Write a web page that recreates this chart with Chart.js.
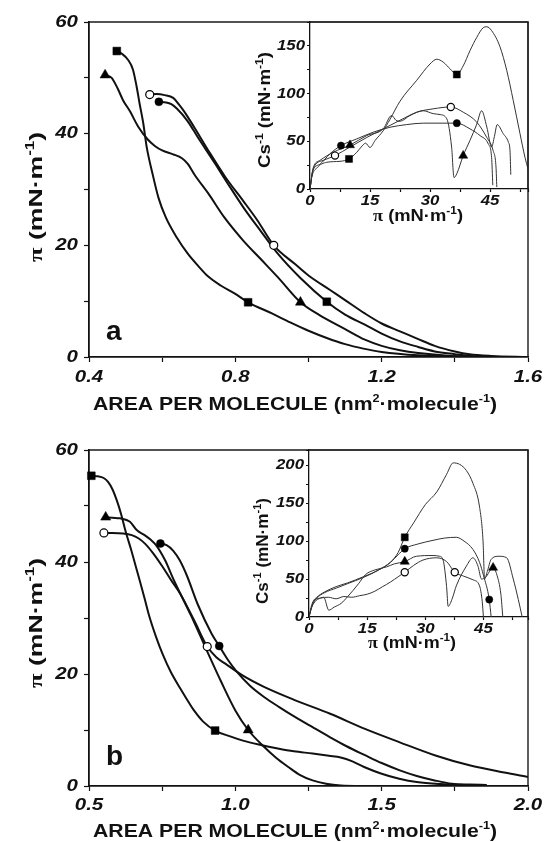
<!DOCTYPE html>
<html><head><meta charset="utf-8">
<script src="https://cdn.jsdelivr.net/npm/chart.js@4.4.1/dist/chart.umd.min.js"></script>
<style>
html,body{margin:0;padding:0;background:#fff;}
body{width:546px;height:842px;position:relative;overflow:hidden;}
canvas{position:absolute;}
</style></head><body>
<canvas id="mainA" width="546" height="420" style="left:0;top:0;width:546px;height:420px"></canvas>
<canvas id="insetA" width="306" height="240" style="left:240px;top:0;width:306px;height:240px"></canvas>
<canvas id="mainB" width="546" height="422" style="left:0;top:420px;width:546px;height:422px"></canvas>
<canvas id="insetB" width="306" height="240" style="left:240px;top:420px;width:306px;height:240px"></canvas>
<script>
// ===== Panel a, main: pi (mN/m) vs area per molecule (nm2/molecule)
const aSquare = [[0.476,54.8],[0.49,54.3],[0.507,53.2],[0.52,51.5],[0.53,48.5],[0.538,45.5],[0.548,42],[0.558,37.5],[0.573,33],[0.59,28.5],[0.61,25],[0.64,21.4],[0.67,18.5],[0.70,16.2],[0.726,14.4],[0.76,12.8],[0.80,11.3],[0.835,9.8],[0.9,7.8],[0.95,6.2],[1.0,4.7],[1.05,3.4],[1.1,2.3],[1.15,1.5],[1.2,0.9],[1.3,0.3],[1.4,0.1],[1.5,0]];
const aTriangle = [[0.444,50.5],[0.462,50],[0.479,48],[0.493,46],[0.512,44],[0.535,41.2],[0.56,39],[0.58,37.8],[0.60,37],[0.63,36.3],[0.654,35.6],[0.67,34.6],[0.69,32.5],[0.726,29.3],[0.77,25],[0.821,20.9],[0.87,17.5],[0.916,14.3],[0.978,9.8],[1.03,7.5],[1.1,5],[1.154,3.1],[1.2,2],[1.25,1.2],[1.3,0.7],[1.39,0.2],[1.5,0]];
const aOpenCircle = [[0.566,47],[0.585,47.1],[0.607,46.9],[0.63,46.4],[0.645,45.3],[0.66,44],[0.688,41.1],[0.726,37],[0.773,32.2],[0.821,28],[0.86,24.5],[0.905,20],[0.964,16.6],[1.0,14.6],[1.059,12],[1.1,10.2],[1.154,7.8],[1.2,6],[1.25,4.6],[1.3,3.2],[1.345,2],[1.4,1],[1.44,0.5],[1.5,0.2],[1.6,0]];
const aFilledCircle = [[0.591,45.7],[0.611,45.6],[0.625,45.3],[0.64,44.5],[0.669,42.3],[0.697,39.4],[0.745,34.6],[0.78,31],[0.821,26.9],[0.87,22.5],[0.916,18.5],[0.98,14],[1.05,9.9],[1.1,7.6],[1.154,5.8],[1.2,4.2],[1.25,2.8],[1.3,1.8],[1.345,1],[1.4,0.5],[1.44,0.2],[1.5,0.05],[1.58,0]];
const aMarkX = [0.476,0.835,1.05,0.444,0.978,0.566,0.905,0.591];
const aMarkY = [54.8,9.8,9.9,50.5,9.8,47,20,45.7];
const aMarkShape = ['sq','sq','sq','tri','tri','open','open','dot'];
const aXTicks = ['0.4','0.8','1.2','1.6'];
const aYTicks = ['0','20','40','60'];

// ===== Panel a, inset: Cs^-1 vs pi
const aInsSquare = [[0,0],[0.4,12],[1.7,22],[4.2,28],[7.5,29],[9.75,31.5],[11.7,38.5],[13,45],[13.9,48],[15,43.5],[16.3,51],[18.3,61],[20,73],[22.5,92],[26.7,114],[30,131],[31.7,136],[33.3,133],[35,126],[36.7,120],[38.3,129],[40,145],[41.7,159],[43.3,169],[44.2,170],[45.4,166],[47.5,149],[49.2,124],[50.8,93],[52.5,58],[53.75,33],[54.5,21]];
const aInsTriangle = [[0,0],[0.8,22],[2.5,30],[5.8,38.5],[10,46],[14.2,56],[18.3,63],[20.4,77],[21.5,72],[22.5,71],[25,77],[28.3,82],[30.8,79],[32.5,78],[34.2,73.5],[35.4,44],[36,12],[36.7,16],[38.3,35],[40,51],[41.7,68],[42.9,82],[44.2,65],[45.4,44],[46.1,55],[46.8,67.5],[48.3,58],[49.6,49],[50,40],[50.2,15]];
const aInsOpenCircle = [[0,0],[0.8,21],[3.3,30],[6.25,35],[10,44],[14.2,54],[18.3,63],[22.5,72],[26.7,80.5],[30.8,84],[35.2,86],[38.3,80.5],[41.7,70],[44.2,54],[45.8,40],[46.5,23],[46.7,2]];
const aInsFilledCircle = [[0,0],[0.7,19],[2.5,26],[5,37],[7.75,45.5],[11.7,52.5],[15.8,59.5],[20,64.7],[24.2,67.5],[28.3,69],[32.5,69],[36.7,69],[40,63],[42.5,56],[44.6,47],[45.4,33],[45.7,4]];
const aInsMarkX = [9.75,36.7,10,38.3,6.25,35.2,7.75,36.7];
const aInsMarkY = [31.5,120,46,35,35,86,45.5,69];
const aInsMarkShape = ['sq','sq','tri','tri','open','open','dot','dot'];
const aInsXTicks = ['0','15','30','45'];
const aInsYTicks = ['0','50','100','150'];

// ===== Panel b, main
const bSquare = [[0.508,55.4],[0.53,55.3],[0.55,55],[0.565,54.3],[0.58,53],[0.595,51],[0.61,48.5],[0.625,45.5],[0.645,42],[0.669,37.5],[0.69,33.5],[0.705,30.5],[0.73,26.5],[0.752,23.5],[0.78,20.3],[0.812,17.4],[0.84,15],[0.86,13.4],[0.89,11.5],[0.931,9.9],[0.98,8.9],[1.026,8.1],[1.08,7.4],[1.145,6.7],[1.2,6.2],[1.264,5.8],[1.32,5.4],[1.36,5.1],[1.4,4.4],[1.44,3.4],[1.5,2.2],[1.56,1.3],[1.62,0.7],[1.7,0.35],[1.78,0.2],[1.86,0.15]];
const bTriangle = [[0.557,48],[0.58,47.9],[0.606,47.8],[0.64,47.2],[0.663,45.7],[0.69,44.8],[0.71,44],[0.729,43],[0.76,40.3],[0.788,37],[0.848,30.5],[0.9,24.5],[0.95,18.8],[1.0,13.5],[1.044,10],[1.098,7],[1.14,5],[1.181,3.4],[1.22,2],[1.264,1],[1.31,0.4],[1.36,0.1],[1.46,0]];
const bOpenCircle = [[0.551,45.2],[0.58,45.2],[0.617,45.1],[0.646,44.8],[0.67,44.2],[0.693,43.2],[0.72,41.5],[0.752,39.1],[0.78,36.8],[0.812,34.3],[0.86,29.5],[0.904,24.9],[0.935,23],[0.967,21.8],[1.026,19.7],[1.098,17.7],[1.205,15.3],[1.324,12.9],[1.443,10.2],[1.562,7.8],[1.681,5.5],[1.8,3.7],[1.919,2.4],[2.0,1.6]];
const bFilledCircle = [[0.744,43.3],[0.765,43],[0.788,42],[0.81,40.3],[0.835,37.5],[0.871,32.5],[0.919,27.2],[0.945,25],[0.975,22.5],[1.002,20.6],[1.05,17.9],[1.098,15.9],[1.15,14.1],[1.205,12.3],[1.264,10.5],[1.324,8.7],[1.38,7.1],[1.443,5.5],[1.5,4.1],[1.562,2.8],[1.62,1.8],[1.681,1.0],[1.74,0.4],[1.8,0.25],[1.857,0.2]];
const bMarkX = [0.508,0.931,0.557,1.044,0.551,0.904,0.744,0.945];
const bMarkY = [55.4,9.9,48,10,45.2,24.9,43.3,25];
const bMarkShape = ['sq','sq','tri','tri','open','open','dot','dot'];
const bXTicks = ['0.5','1.0','1.5','2.0'];
const bYTicks = ['0','20','40','60'];

// ===== Panel b, inset
const bInsSquare = [[0,0],[0.5,10],[1,18],[2,25],[4,32],[7,38],[10,44],[14,52],[18,62],[21,72],[23,85],[24.7,105],[27,124],[30,148],[33,165],[35.5,188],[37.2,203],[38.9,201],[40.6,193],[42.3,176],[44,145],[44.9,100],[45.3,50],[46,60],[47,76],[49,80],[51,78],[52.7,50],[54,23],[55,0]];
const bInsTriangle = [[0,0],[0.5,10],[1.5,20],[3,25],[3.8,26],[5.1,9],[6.5,13],[8.3,18],[10,27],[12.8,44],[14.6,56],[17,62],[20,66],[22,70],[24.7,73],[27.7,80],[32,81],[33.7,80],[34.6,75],[35.5,40],[35.9,14],[37,25],[38,41],[40.6,67],[42.3,78],[43.6,67],[44.5,50],[45.5,52],[47.5,65],[48.5,55],[49.5,30],[50,0]];
const bInsOpenCircle = [[0,0],[0.8,15],[1.5,22],[3,25],[5,26],[7,24],[9,27],[11,26],[13,28],[15,30],[17,34],[19,40],[21,46],[23,53],[24.7,59],[27,68],[29.4,75],[32.9,78],[35.5,73],[37.6,59],[39.8,54],[42.3,49],[44,41],[44.7,20],[45,0]];
const bInsFilledCircle = [[0,0],[0.5,12],[1,20],[2,26],[4,33],[7,40],[10,45],[14,53],[18,62],[21,72],[23,82],[24.7,90],[28,96],[32,101],[35,104],[38,105],[40,100],[42.3,89],[44,72],[45,55],[46.5,23],[47,0]];
const bInsMarkX = [24.7,24.7,46.5,24.7,47.5,24.7,37.6];
const bInsMarkY = [105,90,23,73,65,59,59];
const bInsMarkShape = ['sq','dot','dot','tri','tri','open','open'];
const bInsXTicks = ['0','15','30','45'];
const bInsYTicks = ['0','50','100','150','200'];

// ===== text
const SANS = '"Liberation Sans", Arial, sans-serif';
const areaTitle = [{t:'AREA PER MOLECULE (nm'},{t:'2',sup:1},{t:'·molecule'},{t:'-1',sup:1},{t:')'}];
const piTitle = [{t:'π',f:'"Liberation Serif", serif'},{t:' (mN·m'},{t:'-1',sup:1},{t:')'}];
const csTitle = [{t:'Cs'},{t:'-1',sup:1},{t:' (mN·m'},{t:'-1',sup:1},{t:')'}];

function drawRich(ctx, runs, cx, cy, size, len, rot) {
  const fontFor = r => `bold ${r.sup ? Math.round(size*0.62) : size}px ${r.f || SANS}`;
  let w = 0;
  const ws = runs.map(r => { ctx.font = fontFor(r); const m = ctx.measureText(r.t).width; w += m; return m; });
  const sx = len ? len / w : 1;
  ctx.save();
  ctx.translate(cx, cy);
  if (rot) ctx.rotate(rot);
  ctx.scale(sx, 1);
  ctx.textAlign = 'left'; ctx.textBaseline = 'alphabetic'; ctx.fillStyle = '#111';
  let x = -w/2; const base = size*0.36;
  runs.forEach((r,i) => { ctx.font = fontFor(r); ctx.fillText(r.t, x, r.sup ? base - size*0.42 : base); x += ws[i]; });
  ctx.restore();
}
function drawTick(ctx, t, x, y, size, sx, align) {
  ctx.save(); ctx.translate(x, y); ctx.scale(sx, 1);
  ctx.font = `italic bold ${size}px ${SANS}`;
  ctx.textAlign = align; ctx.textBaseline = 'alphabetic'; ctx.fillStyle = '#111';
  ctx.fillText(t, 0, size*0.36); ctx.restore();
}
const deco = {
  id: 'deco',
  afterDraw(chart, args, o) {
    const {ctx, chartArea: ca, scales} = chart;
    ctx.save();
    ctx.strokeStyle = '#1a1a1a'; ctx.lineWidth = o.boxW;
    ctx.beginPath(); ctx.moveTo(ca.left, ca.top); ctx.lineTo(ca.right, ca.top); ctx.lineTo(ca.right, ca.bottom); ctx.stroke();
    o.xLabels.forEach(l => drawTick(ctx, l, scales.x.getPixelForValue(parseFloat(l)), ca.bottom + o.xLabDy, o.tickFont, o.tickSx, 'center'));
    o.yLabels.forEach(l => drawTick(ctx, l, ca.left - o.yLabDx, scales.y.getPixelForValue(parseFloat(l)) - 1, o.tickFont, o.tickSx, 'right'));
    o.titles.forEach(t => drawRich(ctx, t.runs, t.x, t.y, t.size, t.len, t.rot));
    if (o.letter) { ctx.font = `bold ${o.letter.size}px ${SANS}`; ctx.fillStyle = '#111'; ctx.textAlign='left'; ctx.textBaseline='alphabetic'; ctx.fillText(o.letter.t, o.letter.x, o.letter.y); }
    ctx.restore();
  }
};

function lineDs(pts, w, color) {
  return {data: pts.map(p => ({x:p[0], y:p[1]})), showLine:true, borderColor:color, borderWidth:w,
    pointRadius:0, cubicInterpolationMode:'monotone', order:2, fill:false};
}
function markDs(xs, ys, shapes, k) {
  return {data: xs.map((x,i) => ({x, y:ys[i]})), showLine:false, order:0, clip:false,
    pointStyle: shapes.map(s => s==='sq' ? 'rect' : s==='tri' ? 'triangle' : 'circle'),
    pointRadius: shapes.map(s => (s==='sq' ? 5.5 : s==='tri' ? 5.8 : 4) * k),
    pointBackgroundColor: shapes.map(s => s==='open' ? '#fff' : '#000'),
    pointBorderColor:'#000', pointBorderWidth: shapes.map(s => s==='open' ? 1.2 : 0.5)};
}
function axis(min, max, step, fitKey, fitVal, tickLen, bw) {
  return {type:'linear', min, max, bounds:'data',
    ticks:{display:false, stepSize:step, includeBounds:false},
    grid:{drawOnChartArea:false, drawTicks:true, tickLength:tickLen, tickColor:'#111', tickWidth:1.2},
    border:{display:true, color:'#111', width:bw},
    afterFit(s){ s[fitKey] = fitVal; }};
}
function makeChart(id, datasets, c) {
  return new Chart(document.getElementById(id), {
    type:'scatter',
    data:{datasets},
    options:{
      responsive:false, animation:false, devicePixelRatio:1, events:[],
      layout:{padding:{left:0, top:c.top, right:c.right, bottom:0}},
      plugins:{legend:{display:false}, tooltip:{enabled:false}, deco:c.deco},
      scales:{
        x: axis(c.x[0], c.x[1], c.x[2], 'height', c.xh, c.tl, c.bw),
        y: axis(c.y[0], c.y[1], c.y[2], 'width', c.yw, c.tl, c.bw)
      }
    },
    plugins:[deco]
  });
}

const LW = 2, LC = '#111', IW = 1, IC = '#333';
makeChart('mainA', [
  markDs(aMarkX, aMarkY, aMarkShape, 1),
  lineDs(aSquare, LW, LC), lineDs(aTriangle, LW, LC), lineDs(aOpenCircle, LW, LC), lineDs(aFilledCircle, LW, LC)
], {top:22, right:18, xh:63, yw:89, tl:5, bw:1.8, x:[0.4,1.6,0.2], y:[0,60,10],
  deco:{boxW:1.4, xLabels:aXTicks, yLabels:aYTicks, tickFont:16, tickSx:1.28, xLabDy:19, yLabDx:11,
    titles:[{runs:areaTitle, x:295, y:403, size:18.5, len:404},{runs:piTitle, x:35, y:197, size:19, len:130, rot:-Math.PI/2}],
    letter:{t:'a', x:106, y:340, size:28}}});

makeChart('insetA', [
  markDs(aInsMarkX, aInsMarkY, aInsMarkShape, 0.9),
  lineDs(aInsSquare, IW, IC), lineDs(aInsTriangle, IW, IC), lineDs(aInsOpenCircle, IW, IC), lineDs(aInsFilledCircle, IW, IC)
], {top:22, right:18, xh:51, yw:70, tl:3, bw:1.3, x:[0,54.5,7.5], y:[0,175,25],
  deco:{boxW:1.2, xLabels:aInsXTicks, yLabels:aInsYTicks, tickFont:14, tickSx:1.2, xLabDy:11, yLabDx:5,
    titles:[{runs:piTitle, x:178, y:215, size:17, len:90},{runs:csTitle, x:24, y:110, size:17, len:116, rot:-Math.PI/2}]}});

makeChart('mainB', [
  markDs(bMarkX, bMarkY, bMarkShape, 1),
  lineDs(bSquare, LW, LC), lineDs(bTriangle, LW, LC), lineDs(bOpenCircle, LW, LC), lineDs(bFilledCircle, LW, LC)
], {top:30, right:18, xh:56, yw:89, tl:5, bw:1.8, x:[0.5,2.0,0.25], y:[0,60,10],
  deco:{boxW:1.4, xLabels:bXTicks, yLabels:bYTicks, tickFont:16, tickSx:1.28, xLabDy:18, yLabDx:11,
    titles:[{runs:areaTitle, x:295, y:410, size:18.5, len:404},{runs:piTitle, x:35, y:203, size:19, len:130, rot:-Math.PI/2}],
    letter:{t:'b', x:106, y:345, size:28}}});

makeChart('insetB', [
  markDs(bInsMarkX, bInsMarkY, bInsMarkShape, 0.9),
  lineDs(bInsSquare, IW, IC), lineDs(bInsTriangle, IW, IC), lineDs(bInsOpenCircle, IW, IC), lineDs(bInsFilledCircle, IW, IC)
], {top:30, right:18, xh:43, yw:69, tl:3, bw:1.3, x:[0,56.5,7.5], y:[0,220,25],
  deco:{boxW:1.2, xLabels:bInsXTicks, yLabels:bInsYTicks, tickFont:14, tickSx:1.2, xLabDy:11, yLabDx:5,
    titles:[{runs:piTitle, x:172, y:222, size:17, len:88},{runs:csTitle, x:22, y:131, size:17, len:106, rot:-Math.PI/2}]}});
</script>
</body></html>
